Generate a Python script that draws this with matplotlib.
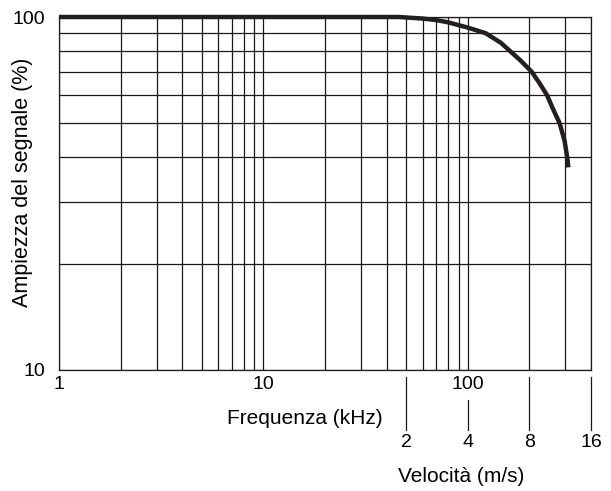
import matplotlib
matplotlib.use("Agg")
import matplotlib.pyplot as plt
from matplotlib.ticker import FixedLocator, NullLocator, NullFormatter
import matplotlib.transforms as mtransforms

plt.rcParams["font.family"] = ["Liberation Sans", "DejaVu Sans"]
plt.rcParams["font.size"] = 14

# curva: frequenza (kHz) -> ampiezza (%)
freq_khz = [1, 46, 60, 70, 80, 100, 122, 145, 161, 180, 205, 225, 244, 260, 281, 297, 306, 310]
ampiezza = [100, 100, 99, 98, 96.6, 93.3, 90, 84.5, 80, 75.5, 70, 64.7, 60, 55.1, 50, 44.6, 40, 37.5]

freq_ticks = [1, 10, 100]
vel_ticks = [2, 4, 8, 16]
KHZ_PER_MS = 25  # 2 m/s = 50 kHz

fig = plt.figure(figsize=(6.11, 4.91), dpi=100)
ax = fig.add_axes([59 / 611, 1 - 370 / 491, 532 / 611, 353 / 491])

ax.set_xscale("log")
ax.set_yscale("log")
ax.set_xlim(1, 400)
ax.set_ylim(10, 100)

ax.xaxis.set_major_locator(FixedLocator(freq_ticks))
ax.xaxis.set_major_formatter(plt.FixedFormatter([str(t) for t in freq_ticks]))
ax.xaxis.set_minor_locator(FixedLocator([2, 3, 4, 5, 6, 7, 8, 9, 20, 30, 40, 50, 60, 70, 80, 90, 200, 300, 400]))
ax.xaxis.set_minor_formatter(NullFormatter())
ax.yaxis.set_major_locator(FixedLocator([10, 100]))
ax.yaxis.set_major_formatter(plt.FixedFormatter(["10", "100"]))
ax.yaxis.set_minor_locator(FixedLocator([20, 30, 40, 50, 60, 70, 80, 90]))
ax.yaxis.set_minor_formatter(NullFormatter())

ax.tick_params(which="both", length=0)
ax.tick_params(axis="x", pad=4.5)
ax.tick_params(axis="y", pad=10)
ax.grid(which="both", color="#1a1a1a", lw=0.9)
for s in ax.spines.values():
    s.set_color("#1a1a1a")
    s.set_linewidth(0.9)

ax.plot(freq_khz, ampiezza, color="#231f20", lw=3.2, solid_capstyle="butt",
        solid_joinstyle="round", clip_on=False, zorder=5)

ax.text(-0.0677, 0.531, "Ampiezza del segnale (%)", rotation=90, transform=ax.transAxes,
        ha="center", va="center", fontsize=15.5)
ax.text(0.4615, -0.154, "Frequenza (kHz)", transform=ax.transAxes, ha="center",
        va="baseline", fontsize=15)

# asse velocità
sec = ax.secondary_xaxis(-0.17, functions=(lambda f: f / KHZ_PER_MS, lambda v: v * KHZ_PER_MS))
sec.set_xticks(vel_ticks, [str(v) for v in vel_ticks])
sec.xaxis.set_minor_locator(NullLocator())
sec.tick_params(length=0, pad=3)
sec.spines["bottom"].set_visible(False)

trans = mtransforms.blended_transform_factory(ax.transData, ax.transAxes)
for v in vel_ticks:
    top = -0.085 if v == 4 else -0.02
    ax.plot([v * KHZ_PER_MS] * 2, [top, -0.17], transform=trans, color="#1a1a1a",
            lw=0.9, clip_on=False)

ax.text(0.7566, -0.3164, "Velocità (m/s)", transform=ax.transAxes, ha="center",
        va="baseline", fontsize=15)

fig.savefig("out.png", dpi=100)
